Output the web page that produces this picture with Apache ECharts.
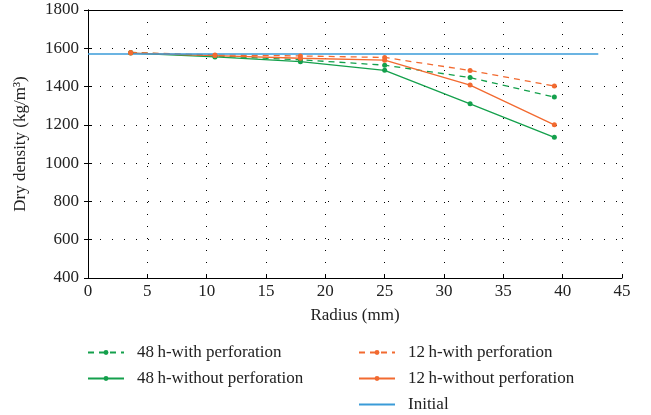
<!DOCTYPE html>
<html><head><meta charset="utf-8">
<script src="https://cdn.jsdelivr.net/npm/echarts@6/dist/echarts.min.js"></script>
<style>html,body{margin:0;padding:0;background:#fff}#c{width:651px;height:415px}</style>
</head><body><div id="c"></div>
<script>
const radius = [3.6, 10.7, 17.9, 25.0, 32.2, 39.3];
const h48With = [1578, 1560, 1540, 1512, 1447, 1345];
const h48Without = [1575, 1555, 1530, 1485, 1310, 1135];
const h12With = [1578, 1565, 1560, 1552, 1484, 1403];
const h12Without = [1575, 1562, 1548, 1538, 1408, 1200];
const initialX = [0, 43];
const initialY = [1570, 1570];
const names = ['48\u2009h-with perforation','48\u2009h-without perforation','12\u2009h-with perforation','12\u2009h-without perforation','Initial'];
const GREEN = '#14a04c', ORANGE = '#f26a30', BLUE = '#3a9bd8';
const font = 'Liberation Serif';
function pairs(xs, ys){ return xs.map((x,i)=>[x, ys[i]]); }
function mk(name, data, color, dashed){
  return {name, type:'line', data, xAxisIndex:0, yAxisIndex:0, symbol:'circle', symbolSize:5,
    itemStyle:{color}, lineStyle:{color, width:1.3, type: dashed ? [6,5] : 'solid'}, emphasis:{disabled:true}};
}
const chart = echarts.init(document.getElementById('c'));
const axisLine = {show:true, lineStyle:{color:'#000', width:1}};
const split = {show:true, lineStyle:{color:'#000', type:[1,11], width:1}};
const lab = {color:'#222', fontSize:17, fontFamily:font};
const legendBase = {orient:'vertical', top:344, height:75, padding:0, itemGap:9, itemWidth:36, itemHeight:6,
  textStyle:Object.assign({padding:[0,0,0,8]}, lab)};
chart.setOption({
  animation:false,
  textStyle:{fontFamily:font},
  grid:{left:88, right:29, top:10, bottom:137},
  xAxis:[
    {type:'value', min:0, max:45, interval:5, axisLine, axisTick:{inside:true, length:4, lineStyle:{color:'#000'}},
     axisLabel:Object.assign({margin:5}, lab), splitLine:split,
     name:'Radius (mm)', nameLocation:'middle', nameGap:29, nameTextStyle:lab},
    {type:'value', position:'top', min:0, max:45, interval:5, axisLine, axisTick:{show:false}, axisLabel:{show:false}, splitLine:{show:false}}
  ],
  yAxis:[
    {type:'value', min:400, max:1800, interval:200, axisLine, axisTick:{inside:true, length:4, lineStyle:{color:'#000'}},
     axisLabel:Object.assign({margin:9, formatter: v => String(v)}, lab), splitLine:split,
     name:'Dry density (kg/m\u00b3)', nameLocation:'middle', nameGap:59, nameTextStyle:lab},
    {type:'value', position:'right', min:400, max:1800, interval:200, axisLine, axisTick:{inside:true, length:4, lineStyle:{color:'#000'}}, axisLabel:{show:false}, splitLine:{show:false}}
  ],
  legend:[
    Object.assign({data:[names[0], names[1]], left:87}, legendBase),
    Object.assign({data:[names[2], names[3], {name:names[4], itemStyle:{opacity:0}}], left:358}, legendBase)
  ],
  series:[
    mk(names[0], pairs(radius, h48With), GREEN, true),
    mk(names[1], pairs(radius, h48Without), GREEN, false),
    mk(names[2], pairs(radius, h12With), ORANGE, true),
    mk(names[3], pairs(radius, h12Without), ORANGE, false),
    {name:names[4], type:'line', data:pairs(initialX, initialY), symbol:'none', lineStyle:{color:BLUE, width:1.4}, itemStyle:{color:BLUE}, emphasis:{disabled:true}}
  ]
});
</script></body></html>
